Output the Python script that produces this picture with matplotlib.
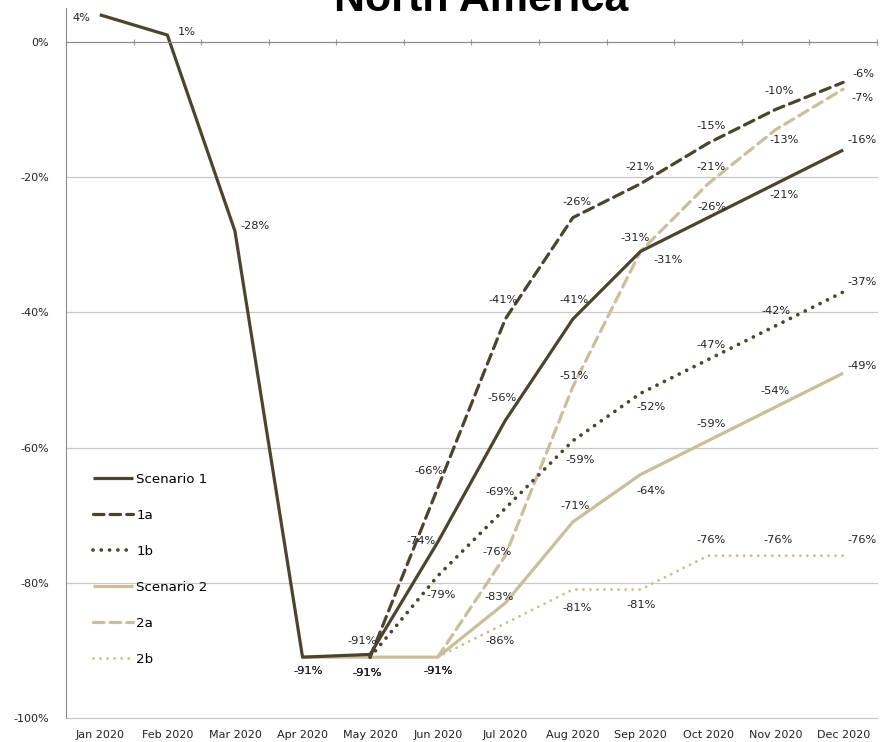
import numpy as np
import matplotlib
matplotlib.use('Agg')
import matplotlib.pyplot as plt
from matplotlib.ticker import FuncFormatter, FixedLocator

plt.rcParams["font.family"] = "DejaVu Sans"
plt.rcParams["axes.unicode_minus"] = False

months = ['Jan 2020', 'Feb 2020', 'Mar 2020', 'Apr 2020', 'May 2020', 'Jun 2020',
          'Jul 2020', 'Aug 2020', 'Sep 2020', 'Oct 2020', 'Nov 2020', 'Dec 2020']

# values per series (percent), first month index where each series starts
scenario1 = [4, 1, -28, -91, -90.6, -74, -56, -41, -31, -26, -21, -16]
s1a = [-91, -66, -41, -26, -21, -15, -10, -6]          # from May
s1b = [-91, -79, -69, -59, -52, -47, -42, -37]         # from May
scenario2 = [-91, -91, -91, -83, -71, -64, -59, -54, -49]  # from Apr
s2a = [-91, -76, -51, -31, -21, -13, -7]               # from Jun
s2b = [-91, -86, -81, -81, -76, -76, -76]              # from Jun

dark = '#4b4530'
light = '#c9bf9d'

# label offsets in pixels (dx, dy) per point
offs = {
    'Scenario 1': [(-18, -3), (19, 3), (20, 5), (6, -14), (-8, 13), (-17, 1),
                   (-3, 22), (1, 19), (28, -9), (4, 11), (8, -11), (19, 10)],
    '1a': [(-3, -16), (-9, 17), (-2, 19), (4, 16), (0, 17), (3, 17), (4, 18), (20, 8)],
    '1b': [(-3, -16), (3, -19), (-5, 16), (7, -19), (11, -14), (3, 15), (0, 15), (19, 10)],
    'Scenario 2': [(6, -14), (-3, -16), (0, -14), (-6, 6), (2, 16), (11, -16),
                   (3, 17), (-1, 16), (19, 7)],
    '2a': [(0, -14), (-8, 4), (1, 11), (-5, 13), (3, 17), (9, -10), (19, -9)],
    '2b': [(0, -14), (-5, -18), (4, -18), (1, -15), (3, 16), (2, 16), (19, 16)],
}

series = [
    ('Scenario 1', 0, scenario1, dark, 2.3, '-'),
    ('1a', 4, s1a, dark, 2.3, (0, (3.3, 1.9))),
    ('1b', 4, s1b, dark, 2.7, (0, (0.01, 2.2))),
    ('Scenario 2', 3, scenario2, light, 2.3, '-'),
    ('2a', 5, s2a, light, 2.3, (0, (3.3, 1.9))),
    ('2b', 5, s2b, light, 2.1, (0, (0.01, 2.4))),
]

fig = plt.figure(figsize=(8.81, 7.42), dpi=100)
ax = fig.add_axes([66/881, 1-718/742, 811/881, 710/742])

# draw from back to front so scenario 1 sits on top
for name, start, vals, col, lw, ls in reversed(series):
    x = np.arange(start, start + len(vals))
    ax.plot(x, vals, color=col, lw=lw, linestyle=ls, dash_capstyle='round',
            solid_capstyle='butt', label=name)
    for xi, v, (dx, dy) in zip(x, vals, offs[name]):
        ax.annotate(f'{int(np.floor(v + 0.5)) if v >= 0 else -int(np.floor(-v + 0.5))}%',
                    (xi, v), xytext=(dx, dy), textcoords='offset pixels',
                    ha='center', va='center', fontsize=8.2, color='#222222')

ax.set_xlim(-0.5, 11.5)
ax.set_ylim(-100, 5)
ax.set_yticks([0, -20, -40, -60, -80, -100])
ax.yaxis.set_major_formatter(FuncFormatter(lambda v, p: f'{v:.0f}%'))
ax.grid(axis='y', color='#c8c8c8', lw=0.9)
for gl in ax.get_ygridlines():
    gl.set_clip_on(False)
ax.set_axisbelow(True)

ax.set_xticks(range(12))
ax.set_xticklabels(months)
ax.xaxis.set_minor_locator(FixedLocator(np.arange(-0.5, 12, 1)))
ax.tick_params(axis='x', which='major', length=0, pad=9, labelsize=8, colors='#222222')
ax.tick_params(axis='x', which='minor', bottom=False, top=True, direction='inout',
               length=5, color='#999999', width=0.8)
ax.tick_params(axis='y', length=0, pad=12, labelsize=8, colors='#222222')

ax.spines['right'].set_visible(False)
ax.spines['bottom'].set_visible(False)
ax.spines['top'].set_position(('data', 0))
ax.spines['top'].set_color('#8c8c8c')
ax.spines['left'].set_color('#8c8c8c')

handles, labels = ax.get_legend_handles_labels()
leg = ax.legend(handles[::-1], labels[::-1], loc='upper left', bbox_to_anchor=(0.033, 0.345),
                frameon=False, fontsize=9.6, handlelength=3.0, handletextpad=0.25,
                labelspacing=1.72, borderpad=0, borderaxespad=0)

fig.text(0.546, 1 - 11/742, 'North America', ha='center', va='baseline',
         fontsize=31, fontweight='bold', family='Liberation Sans')

fig.savefig('out.png', dpi=100)
